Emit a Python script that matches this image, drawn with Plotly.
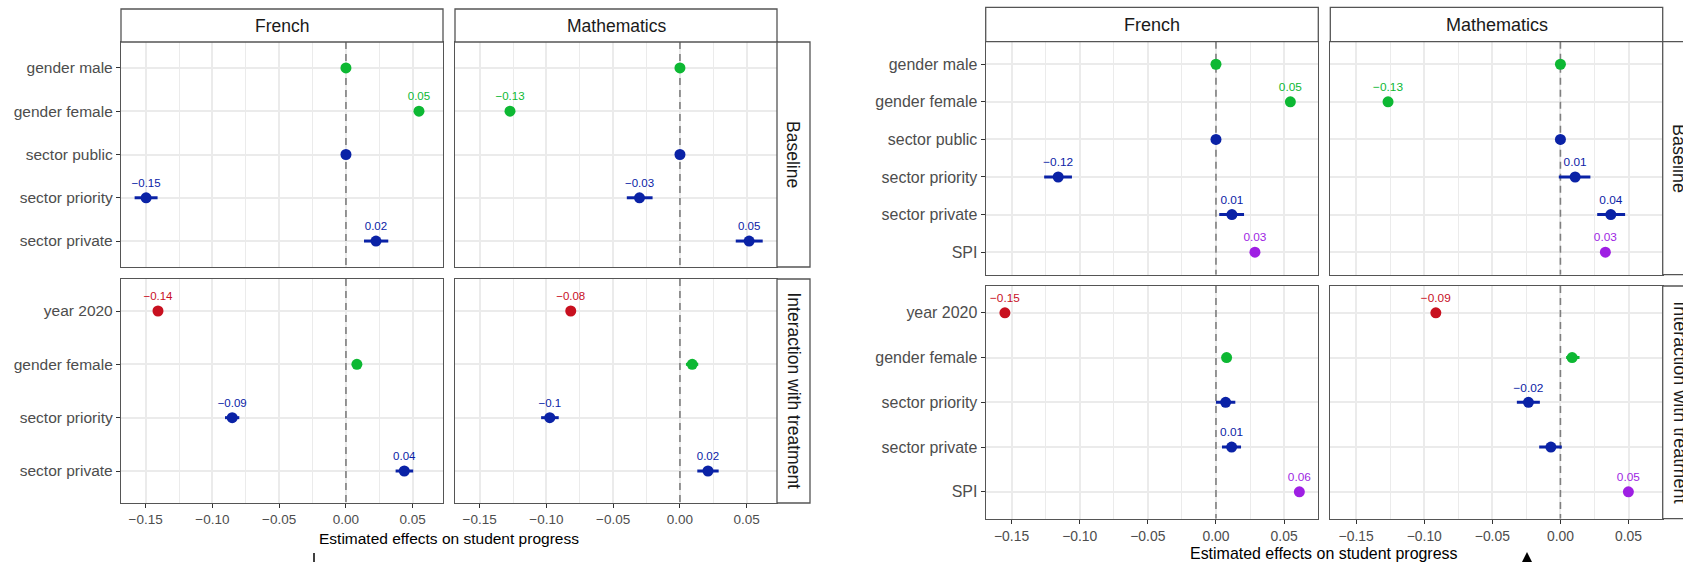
import plotly.graph_objects as go

W, H = 1683, 562
FONT = "Liberation Sans, Arial, sans-serif"

# ------------------------------------------------------------------ data
subjects = ["French", "Mathematics"]
row_labels = ["Baseline", "Interaction with treatment"]
x_tickvals = [-0.15, -0.10, -0.05, 0.0, 0.05]
x_ticktext = ["−0.15", "−0.10", "−0.05", "0.00", "0.05"]
x_minorvals = [-0.175, -0.125, -0.075, -0.025, 0.025, 0.075]

# ---- Chart A (left image)
A_base_terms = ["gender male", "gender female", "sector public", "sector priority", "sector private"]
A_inter_terms = ["year 2020", "gender female", "sector priority", "sector private"]

A_base_fr_est = [0.0, 0.0547, 0.0, -0.1497, 0.0225]
A_base_fr_lo = [0.0, 0.0547, 0.0, -0.1583, 0.0135]
A_base_fr_hi = [0.0, 0.0547, 0.0, -0.1411, 0.0317]
A_base_fr_lab = ["", "0.05", "", "−0.15", "0.02"]

A_base_ma_est = [0.0, -0.1273, 0.0, -0.0303, 0.0518]
A_base_ma_lo = [0.0, -0.1273, 0.0, -0.0398, 0.0418]
A_base_ma_hi = [0.0, -0.1273, 0.0, -0.0205, 0.0620]
A_base_ma_lab = ["", "−0.13", "", "−0.03", "0.05"]

A_int_fr_est = [-0.1408, 0.0082, -0.0852, 0.0437]
A_int_fr_lo = [-0.1408, 0.0082, -0.0906, 0.0372]
A_int_fr_hi = [-0.1408, 0.0082, -0.0799, 0.0504]
A_int_fr_lab = ["−0.14", "", "−0.09", "0.04"]

A_int_ma_est = [-0.0818, 0.0092, -0.0975, 0.0210]
A_int_ma_lo = [-0.0818, 0.0045, -0.1040, 0.0130]
A_int_ma_hi = [-0.0818, 0.0137, -0.0908, 0.0290]
A_int_ma_lab = ["−0.08", "", "−0.1", "0.02"]

# ---- Chart B (right image)
B_base_terms = ["gender male", "gender female", "sector public", "sector priority", "sector private", "SPI"]
B_inter_terms = ["year 2020", "gender female", "sector priority", "sector private", "SPI"]

B_base_fr_est = [0.0, 0.0546, 0.0, -0.1158, 0.0117, 0.0286]
B_base_fr_lo = [0.0, 0.0546, 0.0, -0.1261, 0.0024, 0.0286]
B_base_fr_hi = [0.0, 0.0546, 0.0, -0.1057, 0.0206, 0.0286]
B_base_fr_lab = ["", "0.05", "", "−0.12", "0.01", "0.03"]

B_base_ma_est = [0.0, -0.1266, 0.0, 0.0108, 0.0370, 0.0330]
B_base_ma_lo = [0.0, -0.1266, 0.0, -0.0012, 0.0270, 0.0330]
B_base_ma_hi = [0.0, -0.1266, 0.0, 0.0220, 0.0475, 0.0330]
B_base_ma_lab = ["", "−0.13", "", "0.01", "0.04", "0.03"]

B_int_fr_est = [-0.1549, 0.0078, 0.0071, 0.0115, 0.0612]
B_int_fr_lo = [-0.1549, 0.0078, 0.0000, 0.0044, 0.0612]
B_int_fr_hi = [-0.1549, 0.0078, 0.0142, 0.0184, 0.0612]
B_int_fr_lab = ["−0.15", "", "", "0.01", "0.06"]

B_int_ma_est = [-0.0915, 0.0086, -0.0235, -0.0070, 0.0499]
B_int_ma_lo = [-0.0915, 0.0042, -0.0320, -0.0156, 0.0499]
B_int_ma_hi = [-0.0915, 0.0140, -0.0151, 0.0010, 0.0499]
B_int_ma_lab = ["−0.09", "", "−0.02", "", "0.05"]

GROUP_COLORS = {"gender": "#0DB833", "sector": "#0A22A6", "year": "#C8101F", "SPI": "#9E1FE3"}


def color_of(term):
    for k, c in GROUP_COLORS.items():
        if term.startswith(k):
            return c
    return "#000000"


# ------------------------------------------------------------------ layout geometry (pixels)
charts = [
    dict(
        cols=[(121, 443), (455, 777)],
        rows=[(42, 267), (279, 503)],
        strip_top=9,
        strip_right=(777, 810),
        xrange=[-0.1685, 0.0727],
        terms=[A_base_terms, A_inter_terms],
        data=[
            [(A_base_fr_est, A_base_fr_lo, A_base_fr_hi, A_base_fr_lab),
             (A_base_ma_est, A_base_ma_lo, A_base_ma_hi, A_base_ma_lab)],
            [(A_int_fr_est, A_int_fr_lo, A_int_fr_hi, A_int_fr_lab),
             (A_int_ma_est, A_int_ma_lo, A_int_ma_hi, A_int_ma_lab)],
        ],
        title_xy=(449, 538),
        fs=1.0,
    ),
    dict(
        cols=[(985.7, 1318.3), (1330.3, 1662.7)],
        rows=[(41.7, 274.7), (286, 518.7)],
        strip_top=7.3,
        strip_right=(1662.7, 1700),
        xrange=[-0.169, 0.0751],
        terms=[B_base_terms, B_inter_terms],
        data=[
            [(B_base_fr_est, B_base_fr_lo, B_base_fr_hi, B_base_fr_lab),
             (B_base_ma_est, B_base_ma_lo, B_base_ma_hi, B_base_ma_lab)],
            [(B_int_fr_est, B_int_fr_lo, B_int_fr_hi, B_int_fr_lab),
             (B_int_ma_est, B_int_ma_lo, B_int_ma_hi, B_int_ma_lab)],
        ],
        title_xy=(1324, 553),
        fs=1.03,
    ),
]


def px(x):
    return x / W


def py(y):
    return 1 - y / H


fig = go.Figure()
layout = {}
shapes = []
annotations = []
BORDER = "#555555"
GRID = "#EBEBEB"

n = 0
for ch in charts:
    for ri, (y0, y1) in enumerate(ch["rows"]):
        terms = ch["terms"][ri]
        for ci, (x0, x1) in enumerate(ch["cols"]):
            n += 1
            xa = "x" if n == 1 else f"x{n}"
            ya = "y" if n == 1 else f"y{n}"
            xkey = "xaxis" if n == 1 else f"xaxis{n}"
            ykey = "yaxis" if n == 1 else f"yaxis{n}"
            bottom = ri == len(ch["rows"]) - 1
            left = ci == 0
            layout[xkey] = dict(
                domain=[px(x0), px(x1)], anchor=ya, range=ch["xrange"],
                tickvals=x_tickvals, ticktext=x_ticktext,
                showgrid=True, gridcolor=GRID, gridwidth=1.5,
                minor=dict(tickvals=x_minorvals, showgrid=True, gridcolor=GRID, gridwidth=1, ticks=""),
                zeroline=False, showline=True, linecolor=BORDER, linewidth=1.3, mirror=True,
                ticks="outside" if bottom else "", ticklen=4, tickcolor="#333333",
                showticklabels=bottom,
                tickfont=dict(family=FONT, size=13.5 * ch["fs"], color="#4D4D4D"),
                fixedrange=True,
            )
            nt = len(terms)
            yrange = [nt - 0.4, -0.6]
            layout[ykey] = dict(
                domain=[py(y1), py(y0)], anchor=xa, type="category",
                categoryorder="array", categoryarray=terms,
                range=yrange,
                showgrid=True, gridcolor=GRID, gridwidth=1.5,
                zeroline=False, showline=True, linecolor=BORDER, linewidth=1.3, mirror=True,
                ticks="outside" if left else "", ticklen=4, tickcolor="#333333",
                showticklabels=left,
                tickfont=dict(family=FONT, size=15.5 * ch["fs"], color="#4D4D4D"),
                fixedrange=True,
            )
            # zero reference line, between the grid and the points
            shapes.append(dict(type="line", xref=xa, yref=ya, x0=0, x1=0,
                               y0=yrange[1], y1=yrange[0],
                               line=dict(color="#7F7F7F", width=1.6, dash="7px,5px"), layer="between"))

            est, lo, hi, lab = ch["data"][ri][ci]
            for grp, col in GROUP_COLORS.items():
                idx = [i for i, t in enumerate(terms) if color_of(t) == col]
                if not idx:
                    continue
                fig.add_trace(go.Scatter(
                    x=[est[i] for i in idx], y=[terms[i] for i in idx],
                    xaxis=xa, yaxis=ya, mode="markers+text",
                    text=[lab[i] for i in idx], textposition="top center",
                    textfont=dict(family=FONT, size=11.5 * ch["fs"], color=col),
                    marker=dict(size=11, color=col, line=dict(width=0)),
                    error_x=dict(type="data", symmetric=False,
                                 array=[hi[i] - est[i] for i in idx],
                                 arrayminus=[est[i] - lo[i] for i in idx],
                                 thickness=3, width=0, color=col),
                    hoverinfo="skip", showlegend=False, cliponaxis=False,
                ))

    # top strips
    top_y0 = ch["strip_top"]
    top_y1 = ch["rows"][0][0]
    for ci, (x0, x1) in enumerate(ch["cols"]):
        shapes.append(dict(type="rect", xref="paper", yref="paper", x0=px(x0), x1=px(x1),
                           y0=py(top_y1), y1=py(top_y0), line=dict(color=BORDER, width=1.3),
                           fillcolor="white", layer="above"))
        annotations.append(dict(xref="paper", yref="paper", x=px((x0 + x1) / 2), y=py((top_y0 + top_y1) / 2),
                                text=subjects[ci], showarrow=False, xanchor="center", yanchor="middle",
                                font=dict(family=FONT, size=17.5 * ch["fs"], color="#1A1A1A")))
    # right strips
    sx0, sx1 = ch["strip_right"]
    for ri, (y0, y1) in enumerate(ch["rows"]):
        shapes.append(dict(type="rect", xref="paper", yref="paper", x0=px(sx0), x1=px(sx1),
                           y0=py(y1), y1=py(y0), line=dict(color=BORDER, width=1.3),
                           fillcolor="white", layer="above"))
        annotations.append(dict(xref="paper", yref="paper", x=px(sx0 + 16.5), y=py((y0 + y1) / 2),
                                text=row_labels[ri], showarrow=False, textangle=90,
                                xanchor="center", yanchor="middle",
                                font=dict(family=FONT, size=17.5 * ch["fs"], color="#1A1A1A")))
    # x-axis title
    tx, ty = ch["title_xy"]
    annotations.append(dict(xref="paper", yref="paper", x=px(tx), y=py(ty),
                            text="Estimated effects on student progress", showarrow=False,
                            xanchor="center", yanchor="middle",
                            font=dict(family=FONT, size=15.5 * ch["fs"], color="#000000")))

# small cursor marks visible in the picture
shapes.append(dict(type="line", xref="paper", yref="paper", x0=px(314), x1=px(314), y0=py(553), y1=py(562),
                   line=dict(color="#000000", width=1.5)))
shapes.append(dict(type="path", xref="paper", yref="paper",
                   path=f"M {px(1522)},{py(562)} L {px(1532)},{py(562)} L {px(1527)},{py(552)} Z",
                   fillcolor="#000000", line=dict(width=0)))

fig.update_layout(
    width=W, height=H, margin=dict(l=0, r=0, t=0, b=0),
    paper_bgcolor="white", plot_bgcolor="rgba(0,0,0,0)",
    shapes=shapes, annotations=annotations,
    font=dict(family=FONT),
    **layout,
)

fig.write_html(
    "out.html",
    config={"displayModeBar": False},
    post_script="document.body.style.margin='0';document.body.style.padding='0';",
)
